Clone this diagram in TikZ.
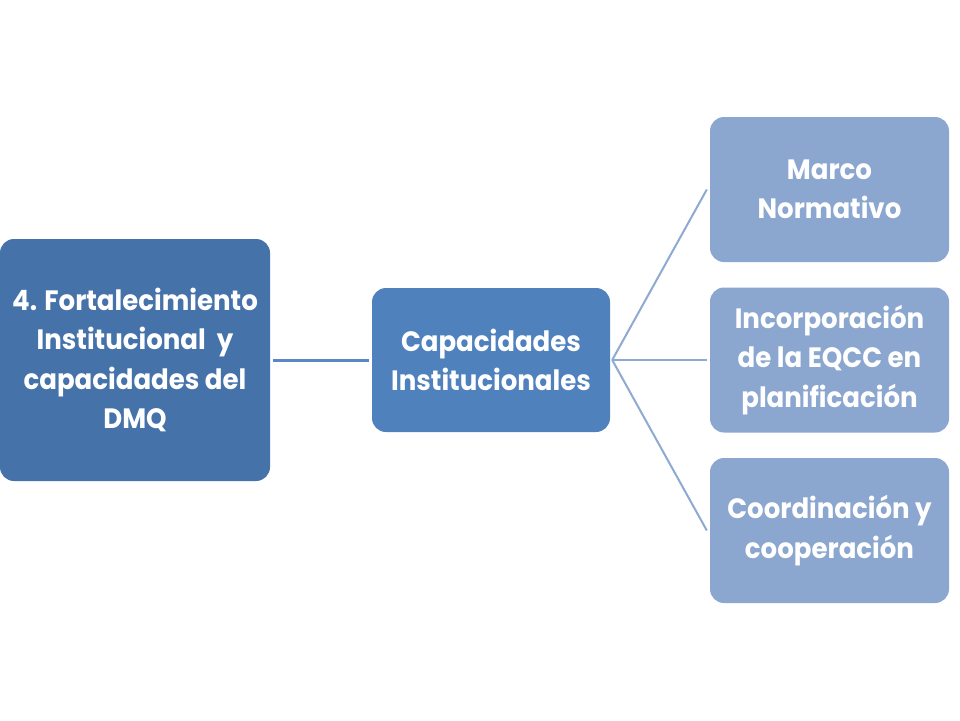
\documentclass[tikz,border=0pt]{standalone}
\usepackage{fontspec}
\setmainfont{Poppins}[FakeStretch=0.93]
\begin{document}
\begin{tikzpicture}[x=1pt,y=-1pt,
  box/.style={rounded corners=14pt, inner sep=0pt, align=center, text=white,
    font=\fontsize{28}{39.5}\selectfont\bfseries},
  thick link/.style={draw=linkA, line width=3pt},
  thin link/.style={draw=linkB, line width=2pt}]
\definecolor{darkA}{HTML}{4672AA}
\definecolor{midA}{HTML}{4F81BD}
\definecolor{lightA}{HTML}{8BA7CF}
\definecolor{linkA}{HTML}{5B87C3}
\definecolor{linkB}{HTML}{8EAAD3}
\useasboundingbox[fill=white] (0,0) rectangle (960,720);
\node[box, fill=darkA, minimum width=270pt, minimum height=242pt] (root) at (135,360)
  {4. Fortalecimiento\\Institucional\ \ y\\capacidades del\\DMQ};
\node[box, fill=midA, minimum width=238pt, minimum height=144pt] (cap) at (491,360)
  {Capacidades\\Institucionales};
\node[box, fill=lightA, minimum width=239pt, minimum height=145pt] (r1) at (829.5,189.5)
  {Marco\\Normativo};
\node[box, fill=lightA, minimum width=239pt, minimum height=145pt] (r2) at (829.5,360)
  {Incorporación\\de la EQCC en\\planificación};
\node[box, fill=lightA, minimum width=239pt, minimum height=145pt] (r3) at (829.5,530.5)
  {Coordinación y\\cooperación};
\draw[thick link] ([xshift=3pt]root.east) -- ([xshift=-3pt]cap.west);
\draw[thin link] ([xshift=2pt]cap.east) -- ([xshift=-3pt]r1.west);
\draw[thin link] ([xshift=2pt]cap.east) -- ([xshift=-3pt]r2.west);
\draw[thin link] ([xshift=2pt]cap.east) -- ([xshift=-3pt]r3.west);
\end{tikzpicture}
\end{document}
